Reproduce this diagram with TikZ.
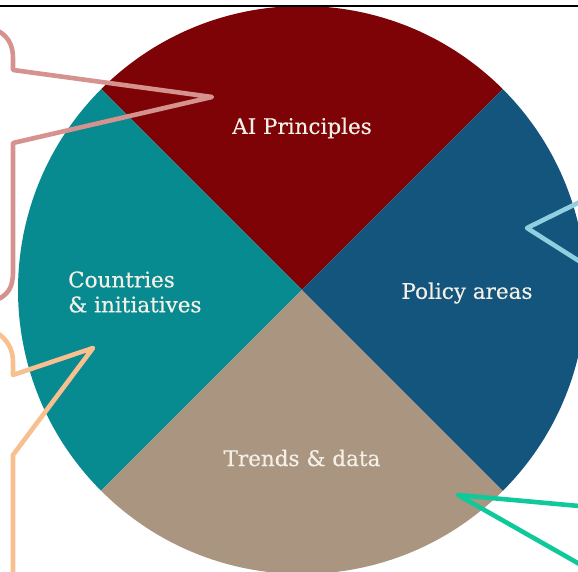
\documentclass[tikz,border=0pt]{standalone}
\usepackage{fontspec}
\setmainfont{DejaVu Serif}
\newfontfamily\segfont[FakeBold=0.5]{DejaVu Serif}
\usetikzlibrary{positioning}

\definecolor{princred}{RGB}{125,3,6}
\definecolor{policyblue}{RGB}{19,85,124}
\definecolor{trendtan}{RGB}{169,149,128}
\definecolor{countryteal}{RGB}{8,138,145}
\definecolor{labelwhite}{RGB}{244,240,232}
\definecolor{pinkline}{RGB}{214,146,142}
\definecolor{orangeline}{RGB}{248,192,142}
\definecolor{blueline}{RGB}{143,207,223}
\definecolor{greenline}{RGB}{16,201,154}

\tikzset{
  segtext/.style={text=labelwhite, inner sep=0pt, font=\segfont\fontsize{21.5}{25}\selectfont},
  callout/.style={line width=4.6pt, line join=round}
}

\begin{document}
\begin{tikzpicture}[x=1pt,y=1pt]

  \newcommand\RAD{284pt}

  \useasboundingbox (0,0) rectangle (578,572);
  \clip (0,0) rectangle (578,572);

  \coordinate (ctr) at (302,282);

  % the four quarters
  \fill[princred] (ctr) -- ++(45:\RAD) arc[start angle=45, end angle=135, radius=\RAD] -- cycle;
  \fill[countryteal] (ctr) -- ++(135:\RAD) arc[start angle=135, end angle=225, radius=\RAD] -- cycle;
  \fill[trendtan] (ctr) -- ++(225:\RAD) arc[start angle=225, end angle=315, radius=\RAD] -- cycle;
  \fill[policyblue] (ctr) -- ++(-45:\RAD) arc[start angle=-45, end angle=45, radius=\RAD] -- cycle;

  \node[segtext] (princ) at (302,444) {AI Principles};
  \node[segtext] (policy) at (467,279) {Policy areas};
  \node[segtext] (trends) at (302,114) {Trends \& data};
  \node[segtext, align=left, anchor=west] (countries) at (68,280) {Countries\\\& initiatives};

  % callout tips
  \coordinate (tipA) at (212,475);
  \coordinate (tipB) at (93,224);
  \coordinate (tipC) at (527,344);
  \coordinate (tipD) at (458,77);

  \draw[callout, pinkline] (-8,544) .. controls (8,538) and (13,527) .. (13,514)
  -- (13,502) -- (tipA) -- (13,429) -- (13,300)
  .. controls (13,284) and (8,276) .. (-8,270);

  \draw[callout, orangeline] (-8,242) .. controls (8,234) and (13,222) .. (13,210)
  -- (13,197) -- (tipB) -- (13,117) -- (13,-8);

  \draw[callout, blueline] (590,375) -- (tipC) -- (590,304);

  \draw[callout, greenline] (590,65) -- (tipD) -- (590,2);

  \draw[line width=1.6pt] (0,566) -- (578,566);

\end{tikzpicture}
\end{document}
